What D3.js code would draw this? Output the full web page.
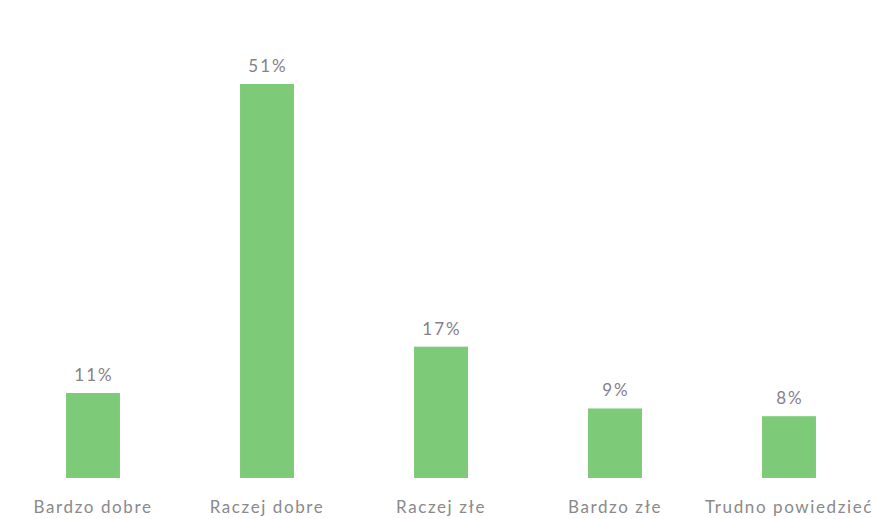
<!DOCTYPE html>
<html>
<head>
<meta charset="utf-8">
<script src="https://cdn.jsdelivr.net/npm/d3@7"></script>
<style>
  body { margin: 0; background: #fff; }
  svg text { font-family: Lato, "Open Sans", sans-serif; }
</style>
</head>
<body>
<svg id="chart" width="882" height="519"></svg>
<script>
var categories = ['Bardzo dobre', 'Raczej dobre', 'Raczej złe', 'Bardzo złe', 'Trudno powiedzieć']
var values = [11, 51, 17, 9, 8]

var svg = d3.select('#chart')
var barColor = '#7dcb78'

var xScale = d3.scaleBand()
	.domain(categories)
	.range([6, 876])
	.paddingInner(0.69)
	.paddingOuter(0.345)

var yScale = d3.scaleLinear()
	.domain([0, 51])
	.range([478, 84])

// bars
svg.append('g')
	.selectAll('rect')
	.data(values)
	.enter()
	.append('rect')
	.attr('x', function (d, i) { return xScale(categories[i]) })
	.attr('y', function (d) { return yScale(d) })
	.attr('width', xScale.bandwidth())
	.attr('height', function (d) { return yScale(0) - yScale(d) })
	.style('fill', barColor)

// value labels
svg.append('g')
	.selectAll('text')
	.data(values)
	.enter()
	.append('text')
	.attr('x', function (d, i) { return xScale(categories[i]) + xScale.bandwidth() / 2 + 1 })
	.attr('y', function (d) { return yScale(d) - 12 })
	.attr('text-anchor', 'middle')
	.attr('font-size', '17px')
	.style('letter-spacing', '2px')
	.style('fill', '#85808a')
	.text(function (d) { return d + '%' })

// category axis
var xAxis = d3.axisBottom(xScale).tickSize(0).tickPadding(0)
var gx = svg.append('g')
	.attr('transform', 'translate(0,' + 478 + ')')
	.call(xAxis)
gx.select('.domain').remove()
gx.selectAll('text')
	.attr('dy', 35)
	.attr('font-size', '17px')
	.style('letter-spacing', '1.6px')
	.style('font-family', 'Lato, "Open Sans", sans-serif')
	.style('fill', '#8a8a8a')
</script>
</body>
</html>
